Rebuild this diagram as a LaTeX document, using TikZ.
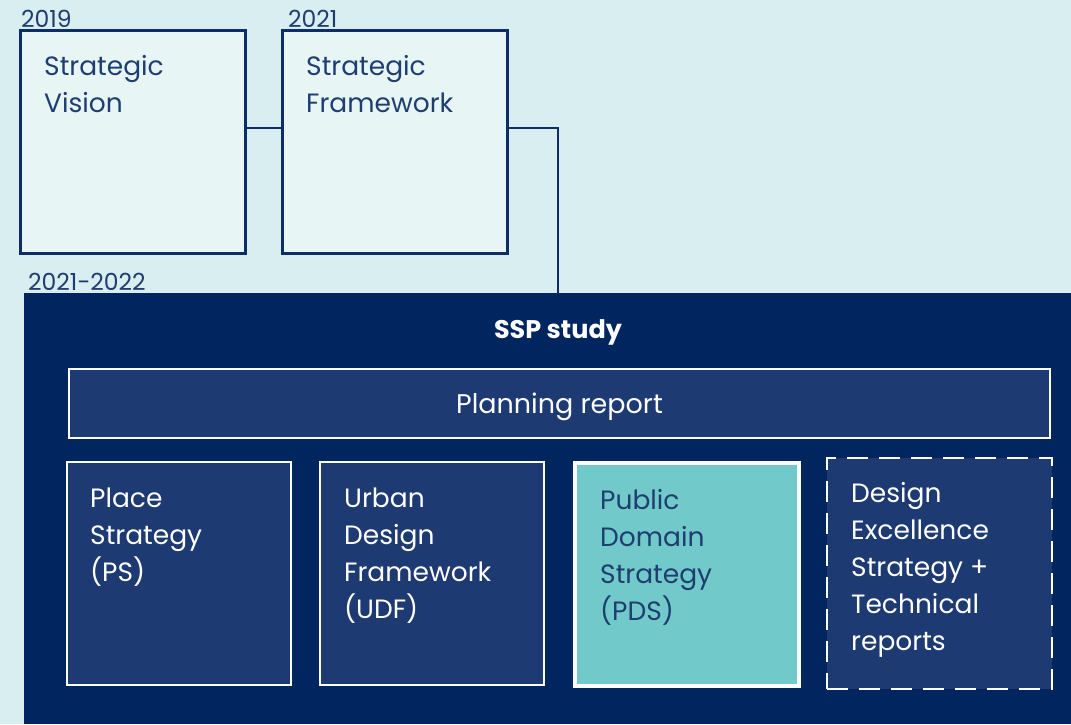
\documentclass[tikz,border=0pt]{standalone}
\usepackage{fontspec}
\setmainfont{Poppins}
\definecolor{paper}{HTML}{D9EEF1}
\definecolor{palebox}{HTML}{E8F5F5}
\definecolor{navyline}{HTML}{0E2D67}
\definecolor{navytext}{HTML}{1F3E70}
\definecolor{deepnavy}{HTML}{00255F}
\definecolor{midnavy}{HTML}{1D3A72}
\definecolor{teal}{HTML}{72C9CA}
\tikzset{
  topbox/.style={draw=navyline, line width=2.5pt, fill=palebox, anchor=north west, inner sep=0pt},
  innerbox/.style={draw=white, line width=2pt, fill=midnavy, anchor=north west, inner sep=0pt},
  pdsbox/.style={draw=white, line width=3.5pt, fill=teal, anchor=north west, inner sep=0pt},
  dashbox/.style={draw=white, line width=2pt, dash pattern=on 21pt off 11pt, fill=midnavy, anchor=north west, inner sep=0pt},
  % multi-line labels: the base anchor sits on the last line
  boxtext/.style={anchor=base west, align=left, inner sep=0pt, font=\fontsize{26.5}{37}\selectfont},
  yeartext/.style={anchor=base west, inner sep=0pt, text=navytext, font=\fontsize{23.5}{26}\selectfont},
  link/.style={draw=navyline, line width=2pt},
}
\begin{document}
\begin{tikzpicture}[x=1pt, y=-1pt]
\fill[paper] (0,0) rectangle (1071,724);
\useasboundingbox (0,0) rectangle (1071,724);

% Earlier documents
\node[topbox, minimum width=225pt, minimum height=223pt] (sv) at (19,29) {};
\node[topbox, minimum width=225pt, minimum height=223pt] (sf) at (281,29) {};
\node[boxtext, text=navytext] at (44,112) {Strategic\\Vision};
\node[boxtext, text=navytext] at (306,112) {Strategic\\Framework};
\node[yeartext] at (21,27) {2019};
\node[yeartext] at (288,27) {2021};

% SSP study panel
\node[fill=deepnavy, anchor=north west, inner sep=0pt, minimum width=1047pt, minimum height=431pt] (ssp) at (24,293) {};
\node[yeartext] at (28,290) {2021-2022};
\coordinate (drop) at (558,128);

\draw[link] (sv.east |- drop) -- (sf.west |- drop);
\draw[link] (sf.east |- drop) -- (drop) -- (drop |- ssp.north);

\node[anchor=base, inner sep=0pt, text=white, font=\fontsize{25.5}{28}\selectfont\bfseries] at (558,338) {SSP study};

\node[innerbox, minimum width=981pt, minimum height=69pt] (pr) at (68,368) {};
\node[anchor=base, inner sep=0pt, text=white, font=\fontsize{27}{30}\selectfont] at (pr.center |- 0,413) {Planning report};

\node[innerbox, minimum width=224pt, minimum height=223pt] (ps) at (66,461) {};
\node[innerbox, minimum width=224pt, minimum height=223pt] (udf) at (319,461) {};
\node[pdsbox, minimum width=224pt, minimum height=223pt] (pds) at (573,461) {};
\node[dashbox, minimum width=225pt, minimum height=231pt] (des) at (826,457) {};

\node[boxtext, text=white] at (90,581) {Place\\Strategy\\(PS)};
\node[boxtext, text=white] at (344,618) {Urban\\Design\\Framework\\(UDF)};
\node[boxtext, text=navytext] at (600,620) {Public\\Domain\\Strategy\\(PDS)};
\node[boxtext, text=white] at (851,650) {Design\\Excellence\\Strategy +\\Technical\\reports};
\end{tikzpicture}
\end{document}
